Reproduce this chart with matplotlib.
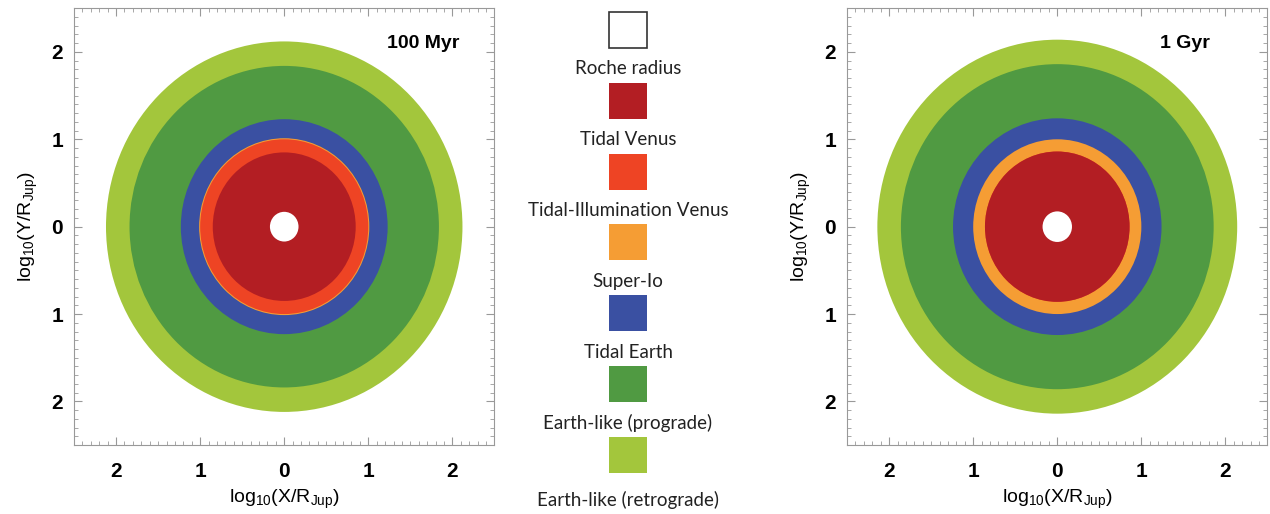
import numpy as np
import matplotlib.pyplot as plt
from matplotlib.patches import Circle, Rectangle
from matplotlib.ticker import MultipleLocator, FuncFormatter

plt.rcParams['font.family'] = ['Liberation Sans', 'DejaVu Sans']
plt.rcParams['mathtext.default'] = 'regular'

# зоны (изнутри наружу) и их цвета
zones = ['Roche radius', 'Tidal Venus', 'Tidal-Illumination Venus', 'Super-Io',
         'Tidal Earth', 'Earth-like (prograde)', 'Earth-like (retrograde)']
colors = ['#FFFFFF', '#B31E23', '#EE4424', '#F59D34', '#3A50A2', '#509A42', '#A3C63C']

# внешние радиусы зон, log10(R/R_Jup)
radii_100myr = [0.17, 0.85, 1.00, 1.012, 1.23, 1.84, 2.12]
radii_1gyr = [0.175, 0.86, 0.86, 1.00, 1.24, 1.86, 2.14]

panel_titles = ['100 Myr', '1 Gyr']


def draw_panel(ax, radii, title):
    # рисуем от внешней зоны к внутренней
    for r, c in reversed(list(zip(radii, colors))):
        ax.add_patch(Circle((0, 0), r, facecolor=c, edgecolor='none'))
    ax.set_xlim(-2.5, 2.5)
    ax.set_ylim(-2.5, 2.5)
    ax.xaxis.set_major_locator(MultipleLocator(1))
    ax.yaxis.set_major_locator(MultipleLocator(1))
    ax.xaxis.set_minor_locator(MultipleLocator(0.1))
    ax.yaxis.set_minor_locator(MultipleLocator(0.1))
    fmt = FuncFormatter(lambda v, p: f"{abs(v):.0f}")
    ax.xaxis.set_major_formatter(fmt)
    ax.yaxis.set_major_formatter(fmt)
    ax.tick_params(which='both', direction='in', top=True, right=True,
                   color='#999999', labelsize=15)
    ax.tick_params(axis='x', which='major', pad=12)
    ax.tick_params(axis='y', which='major', pad=8)
    ax.tick_params(which='major', length=6)
    ax.tick_params(which='minor', length=3)
    for s in ax.spines.values():
        s.set_color('#999999')
    for lbl in ax.get_xticklabels() + ax.get_yticklabels():
        lbl.set_fontweight('bold')
    ax.set_xlabel('log$_{10}$(X/R$_{Jup}$)', fontsize=14, labelpad=5)
    ax.set_ylabel('log$_{10}$(Y/R$_{Jup}$)', fontsize=14, labelpad=8)
    ax.text(1.22, 2.1, title, fontsize=14, fontweight='bold', va='center')


fig = plt.figure(figsize=(12.7, 5.14), dpi=100)
ax1 = fig.add_axes([0.0583, 0.134, 0.331, 0.850])
ax2 = fig.add_axes([0.667, 0.134, 0.331, 0.850])
draw_panel(ax1, radii_100myr, panel_titles[0])
draw_panel(ax2, radii_1gyr, panel_titles[1])

# легенда в центре, в пикселях
lax = fig.add_axes([0.0, 0.0, 1.0, 1.0])
lax.set_xlim(0, 1270)
lax.set_ylim(514, 0)
lax.axis('off')
lax.patch.set_alpha(0)
for i, (name, c) in enumerate(zip(zones, colors)):
    y0 = 12 + i * 70.8
    ec = '#333333' if c == '#FFFFFF' else 'none'
    lax.add_patch(Rectangle((609, y0), 38, 36, facecolor=c, edgecolor=ec, lw=1.2))
    dy = 63 if i == len(zones) - 1 else 57
    lax.text(628, y0 + dy, name, ha='center', va='center', fontsize=13.5,
             family=['Lato', 'DejaVu Sans'], color='#222222')

fig.savefig('out.png', dpi=100)
